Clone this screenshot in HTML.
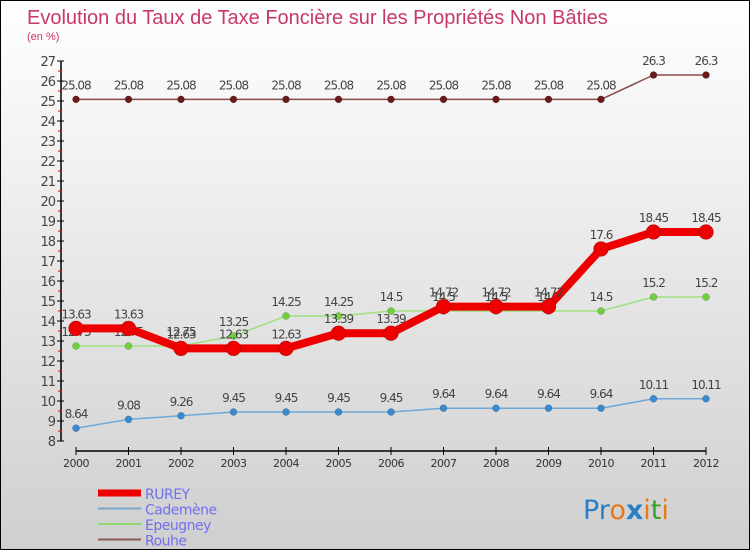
<!DOCTYPE html>
<html><head><meta charset="utf-8"><style>
body{margin:0}
#c{width:750px;height:550px;position:relative;overflow:hidden;box-sizing:border-box;border:1px solid #000;background:linear-gradient(#ffffff,#cfcfcf);font-family:"DejaVu Sans","Liberation Sans",sans-serif}
</style></head><body>
<div id="c">
<svg id="s" width="750" height="550" style="position:absolute;left:0;top:0">
<text x="26" y="23" font-size="20" fill="#c8386a" font-family="Liberation Sans">Evolution du Taux de Taxe Foncière sur les Propriétés Non Bâties</text>
<text x="26" y="39" font-size="11" fill="#c8386a" font-family="Liberation Sans">(en %)</text>
<g id="axes"></g><g id="series"></g><g id="legend"></g>
<text x="582" y="518" font-size="27" font-family="DejaVu Sans"><tspan fill="#2a7ec8">Pr</tspan><tspan fill="#e87818">o</tspan><tspan fill="#2a7ec8" font-weight="bold">x</tspan><tspan fill="#e87818">i</tspan><tspan fill="#3aa030">t</tspan><tspan fill="#e87818">i</tspan></text>
</svg>
</div>
<script>
const years=[2000,2001,2002,2003,2004,2005,2006,2007,2008,2009,2010,2011,2012];
const yTicks=[8,9,10,11,12,13,14,15,16,17,18,19,20,21,22,23,24,25,26,27];
const rurey=[13.63,13.63,12.63,12.63,12.63,13.39,13.39,14.72,14.72,14.72,17.6,18.45,18.45];
const cademene=[8.64,9.08,9.26,9.45,9.45,9.45,9.45,9.64,9.64,9.64,9.64,10.11,10.11];
const epeugney=[12.75,12.75,12.75,13.25,14.25,14.25,14.5,14.5,14.5,14.5,14.5,15.2,15.2];
const rouhe=[25.08,25.08,25.08,25.08,25.08,25.08,25.08,25.08,25.08,25.08,25.08,26.3,26.3];
const NS="http://www.w3.org/2000/svg";
function X(i){return 75+i*52.5;}
function Y(v){return 440-(v-8)*20;}
function mk(t,a,p){const e=document.createElementNS(NS,t);for(const k in a)e.setAttribute(k,a[k]);p.appendChild(e);return e;}
const ax=document.getElementById('axes');
const yl=mk('line',{x1:60,y1:Y(27),x2:60,y2:Y(8),stroke:'#000','stroke-width':1.5},ax);


const xl=mk('line',{x1:75,y1:450,x2:705,y2:450,stroke:'#000','stroke-width':1.5},ax);


yTicks.forEach(v=>{
 mk('line',{x1:56,y1:Y(v),x2:63,y2:Y(v),stroke:'#000'},ax);
 if(v<27)mk('line',{x1:57,y1:Y(v+0.5),x2:61,y2:Y(v+0.5),stroke:'#e00'},ax);
 const t=mk('text',{x:54,y:Y(v)+5,'text-anchor':'end','font-size':13,fill:'#444','letter-spacing':'-1'},ax);
 t.textContent=v;
 
 
});
years.forEach((y,i)=>{
 mk('line',{x1:X(i),y1:446,x2:X(i),y2:454,stroke:'#000'},ax);
 const t=mk('text',{x:X(i),y:466,'text-anchor':'middle','font-size':11,fill:'#333','letter-spacing':'-0.5'},ax);
 t.textContent=y;
 
 
});
const sg=document.getElementById('series');
function draw(name,vals,color,w,r,dot){
 const g=mk('g',{},sg);
 
 
 const pl=mk('polyline',{points:vals.map((v,i)=>X(i)+','+Y(v)).join(' '),fill:'none',stroke:color,'stroke-width':w,'stroke-linejoin':'round'},g);
 
 
 vals.forEach((v,i)=>{
  const c=mk('circle',{cx:X(i),cy:Y(v),r:r,fill:dot,stroke:'rgba(0,0,0,0.3)','stroke-width':0.5},g);
  
  
  const t=mk('text',{x:X(i),y:Y(v)-10,'text-anchor':'middle','font-size':12,fill:'#444','letter-spacing':'-1'},g);
  t.textContent=v;
  
  
 });
}
draw('rouhe',rouhe,'#8a4a4a',1.5,3.5,'#6a1a1a');
draw('cademene',cademene,'#70a8d8',1.5,3.5,'#3a8ad0');
draw('epeugney',epeugney,'#a0e080',1.5,3.5,'#70d040');
draw('rurey',rurey,'#ee0000',8,7.5,'#ee0000');
const lg=document.getElementById('legend');
const items=[['RUREY','#ee0000',7],['Cademène','#7aa8c8',2],['Epeugney','#90d870',2],['Rouhe','#8a5a5a',2]];
items.forEach((it,k)=>{
 const y=492+k*15.5;
 const g=mk('g',{},lg);
 
 
 mk('line',{x1:97,y1:y,x2:140,y2:y,stroke:it[1],'stroke-width':it[2]},g);
 const t=mk('text',{x:144,y:y+6,'font-size':14,fill:'#7070f0','letter-spacing':'-0.5'},g);
 t.textContent=it[0];
});
</script>
</body></html>
